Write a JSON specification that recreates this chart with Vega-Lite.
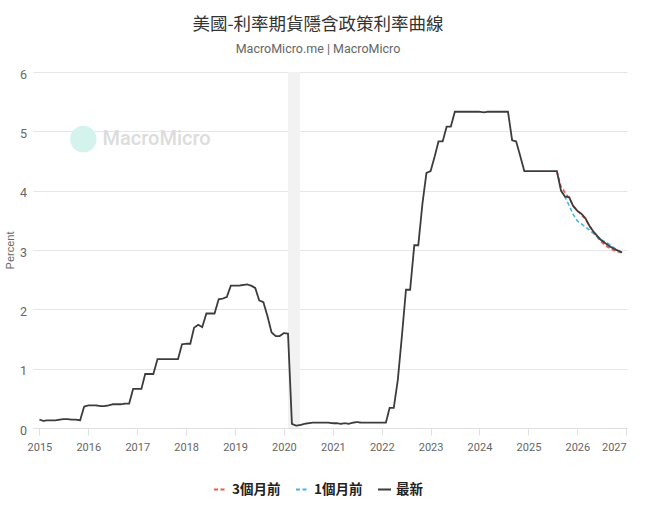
{
  "$schema": "https://vega.github.io/schema/vega-lite/v6.json",
  "autosize": {"type": "none"},
  "padding": {"left": 33, "top": 72, "right": 18, "bottom": 86},
  "width": 594,
  "height": 356,
  "background": "white",
  "title": {
    "text": "美國-利率期貨隱含政策利率曲線",
    "subtitle": "MacroMicro.me | MacroMicro",
    "anchor": "middle",
    "frame": "group",
    "dx": -12,
    "offset": 13,
    "font": "Noto Sans CJK TC",
    "fontSize": 17.5,
    "fontWeight": "normal",
    "color": "#333333",
    "subtitleFont": "Roboto",
    "subtitleFontSize": 12.5,
    "subtitleColor": "#666666",
    "subtitlePadding": 9
  },
  "config": {
    "view": {"stroke": null},
    "axis": {
      "labelFont": "Roboto",
      "labelColor": "#666666",
      "labelFontSize": 11,
      "gridColor": "#e6e6e6",
      "domainColor": "#e0e0e0",
      "tickColor": "#e0e0e0"
    }
  },
  "datasets": {
    "rates": [
      {"date": "2015-01-01", "value": 0.14, "series": "最新"},
      {"date": "2015-02-01", "value": 0.12, "series": "最新"},
      {"date": "2015-03-01", "value": 0.13, "series": "最新"},
      {"date": "2015-04-01", "value": 0.13, "series": "最新"},
      {"date": "2015-05-01", "value": 0.13, "series": "最新"},
      {"date": "2015-06-01", "value": 0.14, "series": "最新"},
      {"date": "2015-07-01", "value": 0.15, "series": "最新"},
      {"date": "2015-08-01", "value": 0.15, "series": "最新"},
      {"date": "2015-09-01", "value": 0.14, "series": "最新"},
      {"date": "2015-10-01", "value": 0.14, "series": "最新"},
      {"date": "2015-11-01", "value": 0.13, "series": "最新"},
      {"date": "2015-12-01", "value": 0.36, "series": "最新"},
      {"date": "2016-01-01", "value": 0.38, "series": "最新"},
      {"date": "2016-02-01", "value": 0.38, "series": "最新"},
      {"date": "2016-03-01", "value": 0.38, "series": "最新"},
      {"date": "2016-04-01", "value": 0.37, "series": "最新"},
      {"date": "2016-05-01", "value": 0.37, "series": "最新"},
      {"date": "2016-06-01", "value": 0.38, "series": "最新"},
      {"date": "2016-07-01", "value": 0.40, "series": "最新"},
      {"date": "2016-08-01", "value": 0.40, "series": "最新"},
      {"date": "2016-09-01", "value": 0.40, "series": "最新"},
      {"date": "2016-10-01", "value": 0.41, "series": "最新"},
      {"date": "2016-11-01", "value": 0.41, "series": "最新"},
      {"date": "2016-12-01", "value": 0.66, "series": "最新"},
      {"date": "2017-01-01", "value": 0.66, "series": "最新"},
      {"date": "2017-02-01", "value": 0.66, "series": "最新"},
      {"date": "2017-03-01", "value": 0.91, "series": "最新"},
      {"date": "2017-04-01", "value": 0.91, "series": "最新"},
      {"date": "2017-05-01", "value": 0.91, "series": "最新"},
      {"date": "2017-06-01", "value": 1.16, "series": "最新"},
      {"date": "2017-07-01", "value": 1.16, "series": "最新"},
      {"date": "2017-08-01", "value": 1.16, "series": "最新"},
      {"date": "2017-09-01", "value": 1.16, "series": "最新"},
      {"date": "2017-10-01", "value": 1.16, "series": "最新"},
      {"date": "2017-11-01", "value": 1.16, "series": "最新"},
      {"date": "2017-12-01", "value": 1.41, "series": "最新"},
      {"date": "2018-01-01", "value": 1.42, "series": "最新"},
      {"date": "2018-02-01", "value": 1.42, "series": "最新"},
      {"date": "2018-03-01", "value": 1.69, "series": "最新"},
      {"date": "2018-04-01", "value": 1.74, "series": "最新"},
      {"date": "2018-05-01", "value": 1.70, "series": "最新"},
      {"date": "2018-06-01", "value": 1.93, "series": "最新"},
      {"date": "2018-07-01", "value": 1.93, "series": "最新"},
      {"date": "2018-08-01", "value": 1.93, "series": "最新"},
      {"date": "2018-09-01", "value": 2.17, "series": "最新"},
      {"date": "2018-10-01", "value": 2.18, "series": "最新"},
      {"date": "2018-11-01", "value": 2.21, "series": "最新"},
      {"date": "2018-12-01", "value": 2.40, "series": "最新"},
      {"date": "2019-01-01", "value": 2.40, "series": "最新"},
      {"date": "2019-02-01", "value": 2.40, "series": "最新"},
      {"date": "2019-03-01", "value": 2.41, "series": "最新"},
      {"date": "2019-04-01", "value": 2.42, "series": "最新"},
      {"date": "2019-05-01", "value": 2.40, "series": "最新"},
      {"date": "2019-06-01", "value": 2.36, "series": "最新"},
      {"date": "2019-07-01", "value": 2.15, "series": "最新"},
      {"date": "2019-08-01", "value": 2.12, "series": "最新"},
      {"date": "2019-09-01", "value": 1.88, "series": "最新"},
      {"date": "2019-10-01", "value": 1.61, "series": "最新"},
      {"date": "2019-11-01", "value": 1.55, "series": "最新"},
      {"date": "2019-12-01", "value": 1.55, "series": "最新"},
      {"date": "2020-01-01", "value": 1.60, "series": "最新"},
      {"date": "2020-02-01", "value": 1.59, "series": "最新"},
      {"date": "2020-03-01", "value": 0.07, "series": "最新"},
      {"date": "2020-04-01", "value": 0.04, "series": "最新"},
      {"date": "2020-05-01", "value": 0.05, "series": "最新"},
      {"date": "2020-06-01", "value": 0.07, "series": "最新"},
      {"date": "2020-07-01", "value": 0.08, "series": "最新"},
      {"date": "2020-08-01", "value": 0.09, "series": "最新"},
      {"date": "2020-09-01", "value": 0.09, "series": "最新"},
      {"date": "2020-10-01", "value": 0.09, "series": "最新"},
      {"date": "2020-11-01", "value": 0.09, "series": "最新"},
      {"date": "2020-12-01", "value": 0.09, "series": "最新"},
      {"date": "2021-01-01", "value": 0.08, "series": "最新"},
      {"date": "2021-02-01", "value": 0.08, "series": "最新"},
      {"date": "2021-03-01", "value": 0.07, "series": "最新"},
      {"date": "2021-04-01", "value": 0.08, "series": "最新"},
      {"date": "2021-05-01", "value": 0.07, "series": "最新"},
      {"date": "2021-06-01", "value": 0.09, "series": "最新"},
      {"date": "2021-07-01", "value": 0.10, "series": "最新"},
      {"date": "2021-08-01", "value": 0.09, "series": "最新"},
      {"date": "2021-09-01", "value": 0.09, "series": "最新"},
      {"date": "2021-10-01", "value": 0.09, "series": "最新"},
      {"date": "2021-11-01", "value": 0.09, "series": "最新"},
      {"date": "2021-12-01", "value": 0.09, "series": "最新"},
      {"date": "2022-01-01", "value": 0.09, "series": "最新"},
      {"date": "2022-02-01", "value": 0.09, "series": "最新"},
      {"date": "2022-03-01", "value": 0.34, "series": "最新"},
      {"date": "2022-04-01", "value": 0.34, "series": "最新"},
      {"date": "2022-05-01", "value": 0.81, "series": "最新"},
      {"date": "2022-06-01", "value": 1.56, "series": "最新"},
      {"date": "2022-07-01", "value": 2.33, "series": "最新"},
      {"date": "2022-08-01", "value": 2.33, "series": "最新"},
      {"date": "2022-09-01", "value": 3.08, "series": "最新"},
      {"date": "2022-10-01", "value": 3.08, "series": "最新"},
      {"date": "2022-11-01", "value": 3.78, "series": "最新"},
      {"date": "2022-12-01", "value": 4.30, "series": "最新"},
      {"date": "2023-01-01", "value": 4.33, "series": "最新"},
      {"date": "2023-02-01", "value": 4.58, "series": "最新"},
      {"date": "2023-03-01", "value": 4.83, "series": "最新"},
      {"date": "2023-04-01", "value": 4.83, "series": "最新"},
      {"date": "2023-05-01", "value": 5.08, "series": "最新"},
      {"date": "2023-06-01", "value": 5.08, "series": "最新"},
      {"date": "2023-07-01", "value": 5.33, "series": "最新"},
      {"date": "2023-08-01", "value": 5.33, "series": "最新"},
      {"date": "2023-09-01", "value": 5.33, "series": "最新"},
      {"date": "2023-10-01", "value": 5.33, "series": "最新"},
      {"date": "2023-11-01", "value": 5.33, "series": "最新"},
      {"date": "2023-12-01", "value": 5.33, "series": "最新"},
      {"date": "2024-01-01", "value": 5.33, "series": "最新"},
      {"date": "2024-02-01", "value": 5.32, "series": "最新"},
      {"date": "2024-03-01", "value": 5.33, "series": "最新"},
      {"date": "2024-04-01", "value": 5.33, "series": "最新"},
      {"date": "2024-05-01", "value": 5.33, "series": "最新"},
      {"date": "2024-06-01", "value": 5.33, "series": "最新"},
      {"date": "2024-07-01", "value": 5.33, "series": "最新"},
      {"date": "2024-08-01", "value": 5.33, "series": "最新"},
      {"date": "2024-09-01", "value": 4.85, "series": "最新"},
      {"date": "2024-10-01", "value": 4.83, "series": "最新"},
      {"date": "2024-11-01", "value": 4.58, "series": "最新"},
      {"date": "2024-12-01", "value": 4.33, "series": "最新"},
      {"date": "2025-01-01", "value": 4.33, "series": "最新"},
      {"date": "2025-02-01", "value": 4.33, "series": "最新"},
      {"date": "2025-03-01", "value": 4.33, "series": "最新"},
      {"date": "2025-04-01", "value": 4.33, "series": "最新"},
      {"date": "2025-05-01", "value": 4.33, "series": "最新"},
      {"date": "2025-06-01", "value": 4.33, "series": "最新"},
      {"date": "2025-07-01", "value": 4.33, "series": "最新"},
      {"date": "2025-08-01", "value": 4.33, "series": "最新"},
      {"date": "2025-09-01", "value": 4.00, "series": "最新"},
      {"date": "2025-10-01", "value": 3.90, "series": "最新"},
      {"date": "2025-11-01", "value": 3.89, "series": "最新"},
      {"date": "2025-12-01", "value": 3.74, "series": "最新"},
      {"date": "2026-01-01", "value": 3.66, "series": "最新"},
      {"date": "2026-02-01", "value": 3.61, "series": "最新"},
      {"date": "2026-03-01", "value": 3.54, "series": "最新"},
      {"date": "2026-04-01", "value": 3.41, "series": "最新"},
      {"date": "2026-05-01", "value": 3.31, "series": "最新"},
      {"date": "2026-06-01", "value": 3.23, "series": "最新"},
      {"date": "2026-07-01", "value": 3.16, "series": "最新"},
      {"date": "2026-08-01", "value": 3.11, "series": "最新"},
      {"date": "2026-09-01", "value": 3.06, "series": "最新"},
      {"date": "2026-10-01", "value": 3.02, "series": "最新"},
      {"date": "2026-11-01", "value": 2.99, "series": "最新"},
      {"date": "2026-12-01", "value": 2.96, "series": "最新"},
      {"date": "2025-08-01", "value": 4.33, "series": "3個月前"},
      {"date": "2025-09-01", "value": 4.07, "series": "3個月前"},
      {"date": "2025-10-01", "value": 3.97, "series": "3個月前"},
      {"date": "2025-11-01", "value": 3.87, "series": "3個月前"},
      {"date": "2025-12-01", "value": 3.75, "series": "3個月前"},
      {"date": "2026-01-01", "value": 3.66, "series": "3個月前"},
      {"date": "2026-02-01", "value": 3.59, "series": "3個月前"},
      {"date": "2026-03-01", "value": 3.52, "series": "3個月前"},
      {"date": "2026-04-01", "value": 3.41, "series": "3個月前"},
      {"date": "2026-05-01", "value": 3.30, "series": "3個月前"},
      {"date": "2026-06-01", "value": 3.21, "series": "3個月前"},
      {"date": "2026-07-01", "value": 3.13, "series": "3個月前"},
      {"date": "2026-08-01", "value": 3.07, "series": "3個月前"},
      {"date": "2026-09-01", "value": 3.03, "series": "3個月前"},
      {"date": "2026-10-01", "value": 2.99, "series": "3個月前"},
      {"date": "2026-11-01", "value": 2.97, "series": "3個月前"},
      {"date": "2026-12-01", "value": 2.95, "series": "3個月前"},
      {"date": "2025-09-01", "value": 4.00, "series": "1個月前"},
      {"date": "2025-10-01", "value": 3.89, "series": "1個月前"},
      {"date": "2025-11-01", "value": 3.75, "series": "1個月前"},
      {"date": "2025-12-01", "value": 3.60, "series": "1個月前"},
      {"date": "2026-01-01", "value": 3.49, "series": "1個月前"},
      {"date": "2026-02-01", "value": 3.44, "series": "1個月前"},
      {"date": "2026-03-01", "value": 3.39, "series": "1個月前"},
      {"date": "2026-04-01", "value": 3.34, "series": "1個月前"},
      {"date": "2026-05-01", "value": 3.28, "series": "1個月前"},
      {"date": "2026-06-01", "value": 3.22, "series": "1個月前"},
      {"date": "2026-07-01", "value": 3.17, "series": "1個月前"},
      {"date": "2026-08-01", "value": 3.13, "series": "1個月前"},
      {"date": "2026-09-01", "value": 3.09, "series": "1個月前"},
      {"date": "2026-10-01", "value": 3.04, "series": "1個月前"},
      {"date": "2026-11-01", "value": 2.99, "series": "1個月前"},
      {"date": "2026-12-01", "value": 2.95, "series": "1個月前"}
    ]
  },
  "layer": [
    {
      "data": {"values": [{"start": "2020-02-01", "end": "2020-05-01"}]},
      "mark": {"type": "rect", "color": "#f2f2f2"},
      "encoding": {
        "x": {"field": "start", "type": "temporal"},
        "x2": {"field": "end"}
      }
    },
    {
      "data": {"values": [{"d": "2015-11-25", "v": 4.87}]},
      "mark": {"type": "point", "filled": true, "shape": "circle", "size": 700, "color": "#d4f3ec", "opacity": 1},
      "encoding": {
        "x": {"field": "d", "type": "temporal"},
        "y": {"field": "v", "type": "quantitative"}
      }
    },
    {
      "data": {"values": [{"d": "2017-05-25", "v": 4.87, "t": "MacroMicro"}]},
      "mark": {"type": "text", "font": "Roboto", "fontSize": 20, "fontWeight": 500, "color": "#dcdcdc", "align": "center", "baseline": "middle"},
      "encoding": {
        "x": {"field": "d", "type": "temporal"},
        "y": {"field": "v", "type": "quantitative"},
        "text": {"field": "t"}
      }
    },
    {
      "data": {"name": "rates"},
      "transform": [{"filter": "datum.series !== '最新'"}],
      "mark": {"type": "line", "strokeWidth": 1.6},
      "encoding": {
        "x": {"field": "date", "type": "temporal"},
        "y": {"field": "value", "type": "quantitative"},
        "color": {"field": "series", "type": "nominal"},
        "strokeDash": {"field": "series", "type": "nominal"}
      }
    },
    {
      "data": {"name": "rates"},
      "transform": [{"filter": "datum.series === '最新'"}],
      "mark": {"type": "line", "strokeWidth": 1.8},
      "encoding": {
        "x": {
          "field": "date",
          "type": "temporal",
          "scale": {"domain": ["2014-11-14", "2027-01-07"]},
          "axis": {
            "title": null,
            "format": "%Y",
            "tickCount": {"interval": "year", "step": 1},
            "grid": false,
            "tickSize": 7,
            "labelPadding": 6,
            "domain": true
          }
        },
        "y": {
          "field": "value",
          "type": "quantitative",
          "scale": {"domain": [0, 6], "nice": false},
          "axis": {
            "title": "Percent",
            "titleFont": "Liberation Sans, Roboto",
            "titleFontSize": 11,
            "titleFontWeight": "normal",
            "titleColor": "#666666",
            "titlePadding": 4,
            "tickCount": 6,
            "domain": false,
            "ticks": false,
            "labelPadding": 10,
            "labelFontSize": 12.5,
            "labelAlign": "center",
            "labelBaseline": "middle",
            "labelOffset": 2
          }
        },
        "color": {
          "field": "series",
          "type": "nominal",
          "scale": {"domain": ["3個月前", "1個月前", "最新"], "range": ["#ee5a4a", "#3fb7e2", "#3c3c3c"]},
          "legend": {
            "title": null,
            "orient": "none",
            "direction": "horizontal",
            "legendX": 180,
            "legendY": 410,
            "symbolType": "stroke",
            "symbolSize": 169,
            "symbolStrokeWidth": 1.8,
            "labelFont": "Noto Sans CJK TC",
            "labelFontSize": 13.5,
            "labelFontWeight": "bold",
            "labelColor": "#222222",
            "labelOffset": 4,
            "columnPadding": 11
          }
        },
        "strokeDash": {
          "field": "series",
          "type": "nominal",
          "scale": {"domain": ["3個月前", "1個月前", "最新"], "range": [[4, 2.5], [4, 2.5], [1, 0]]},
          "legend": null
        }
      }
    }
  ]
}
